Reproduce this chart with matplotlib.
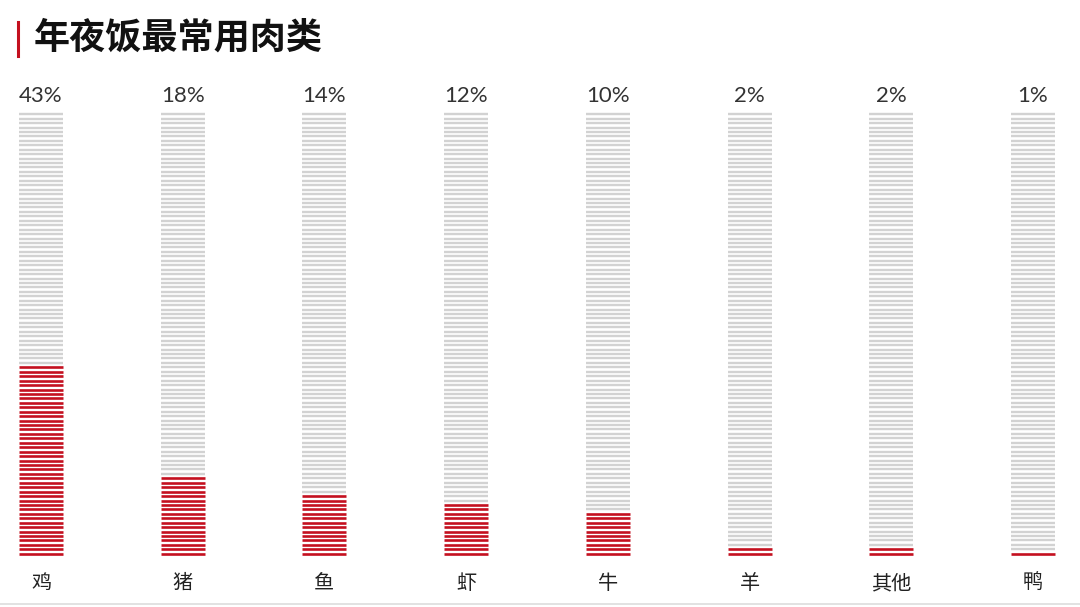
import matplotlib
matplotlib.use("Agg")
import matplotlib.pyplot as plt
from matplotlib.lines import Line2D

categories = ["鸡", "猪", "鱼", "虾", "牛", "羊", "其他", "鸭"]
values = [43, 18, 14, 12, 10, 2, 2, 1]
value_labels = ["43%", "18%", "14%", "12%", "10%", "2%", "2%", "1%"]
title = "年夜饭最常用肉类"
n_lines = 100

RED = "#c4101f"
GRAY = "#d2d2d2"

W, H = 1080, 607
fig = plt.figure(figsize=(W / 100, H / 100), dpi=100)
fig.patch.set_facecolor("white")

bottom = (H - 556) / H
height = (556 - 112) / H
ax = fig.add_axes([0, bottom, 1, height])
spacing = 141.7
x_left = -41 / spacing
x_right = 7 + (W - 1033) / spacing
ax.set_xlim(x_left, x_right)
ax.set_ylim(0, n_lines)
ax.axis("off")

half = 22 / spacing
for i, (cat, v) in enumerate(zip(categories, values)):
    ys_red = [k + 0.5 for k in range(v)]
    ys_gray = [k + 0.5 for k in range(v, n_lines)]
    ax.hlines(ys_gray, i - half, i + half, colors=GRAY, linewidth=1.7)
    ax.hlines(ys_red, i - half, i + half, colors=RED, linewidth=1.9)
    ax.text(i, n_lines + 3.5, value_labels[i], ha="center", va="center",
            fontsize=16, color="#333333", family="Lato")
    ax.text(i, -6.2, cat, ha="center", va="center", fontsize=14.5,
            color="#222222", family=["Noto Sans CJK SC", "DejaVu Sans"])

fig.text(34 / W, 1 - 38 / H, title, ha="left", va="center", fontsize=26,
         fontweight="bold", color="#111111",
         family=["Noto Sans CJK SC", "DejaVu Sans"])
fig.add_artist(Line2D([18 / W, 18 / W], [1 - 22 / H, 1 - 56 / H],
                      color=RED, linewidth=2.2, transform=fig.transFigure))
fig.add_artist(Line2D([0, 1], [1 - 604 / H, 1 - 604 / H], color="#dddddd",
                      linewidth=1.2, transform=fig.transFigure))

fig.savefig("out.png", dpi=100, facecolor="white")
